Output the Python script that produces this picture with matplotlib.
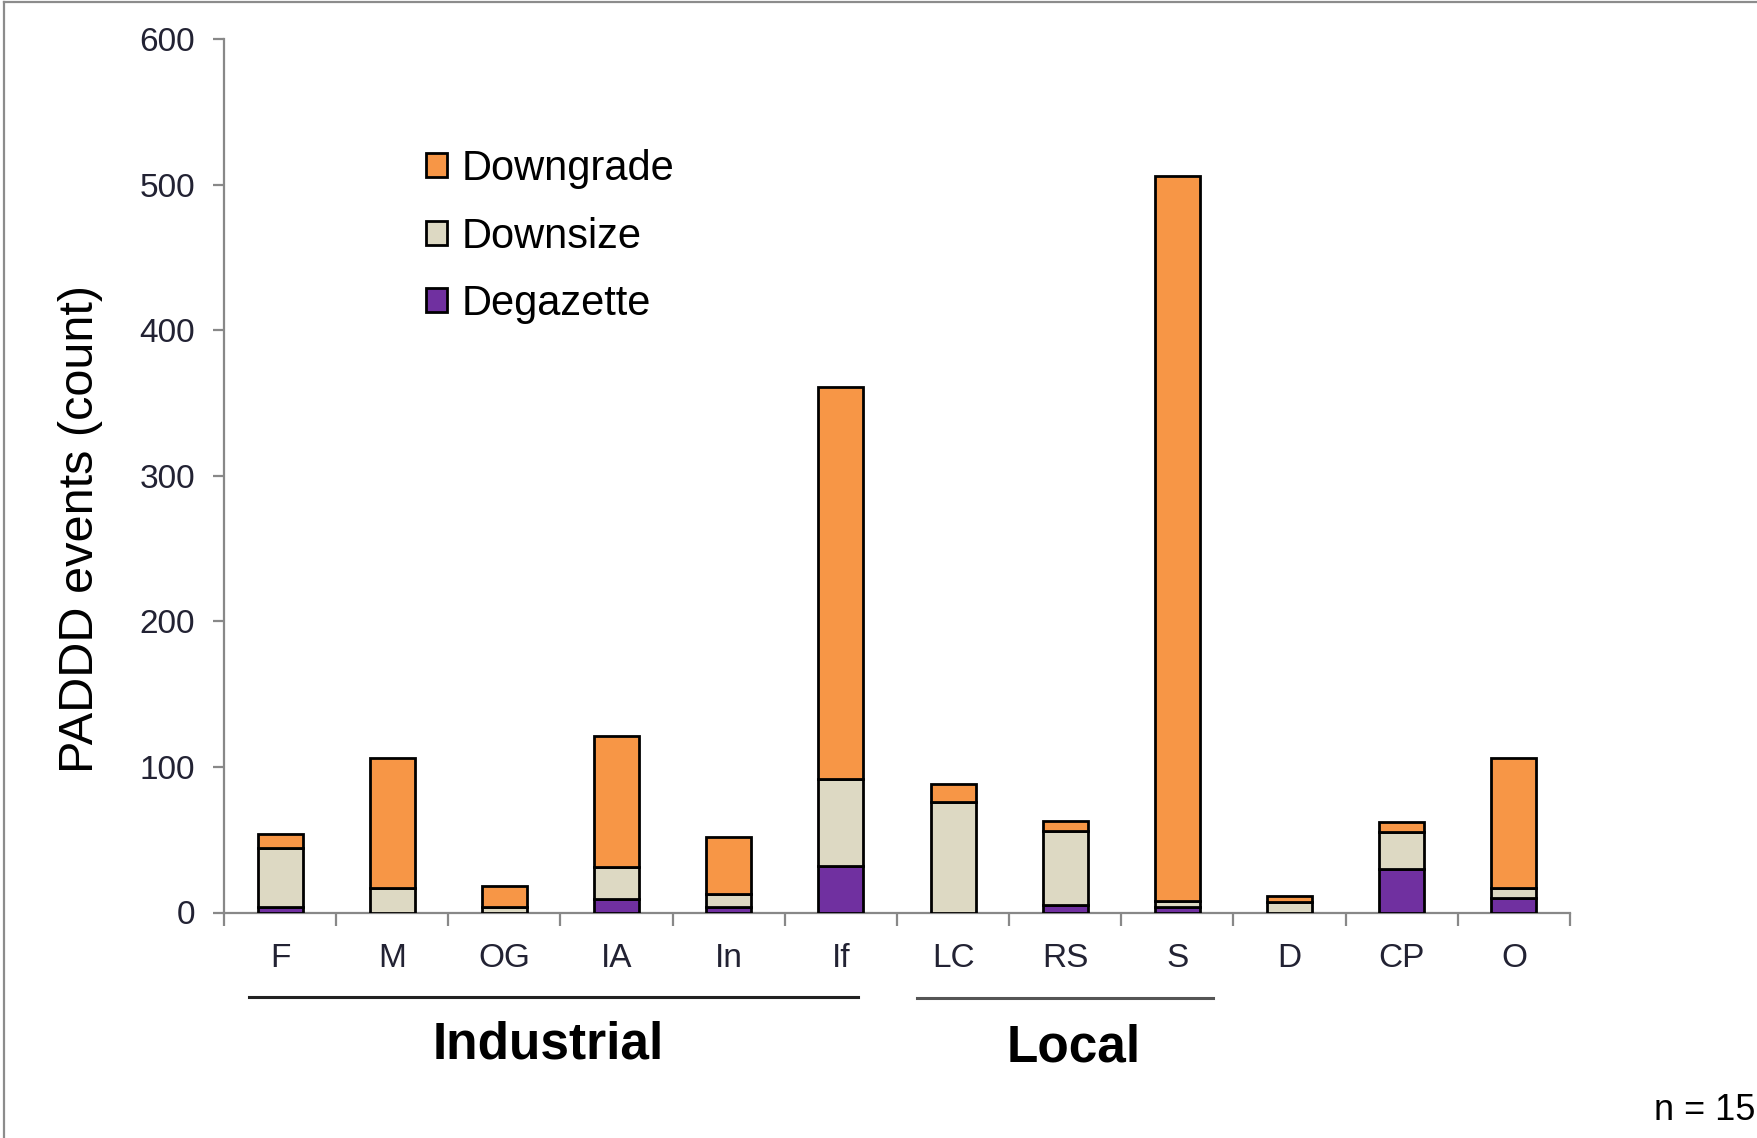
import matplotlib
matplotlib.use("Agg")
import matplotlib.pyplot as plt
from matplotlib.lines import Line2D
import numpy as np

plt.rcParams['font.family'] = ['Liberation Sans', 'DejaVu Sans']

categories = ["F", "M", "OG", "IA", "In", "If", "LC", "RS", "S", "D", "CP", "O"]
degazette = [4, 0, 0, 9, 4, 32, 0, 5, 4, 0, 30, 10]
downsize = [40, 17, 4, 22, 9, 60, 76, 51, 4, 7, 25, 7]
downgrade = [10, 89, 14, 90, 39, 269, 12, 7, 498, 4, 7, 89]

series_names = ["Degazette", "Downsize", "Downgrade"]
series_colors = ["#7030A0", "#DDD9C3", "#F79646"]
groups = ["Industrial", "Local"]

W, H = 1758, 1138
fig = plt.figure(figsize=(W / 100, H / 100), dpi=100)
ax = fig.add_axes([224 / W, 1 - 912.5 / H, 1346 / W, (912.5 - 39) / H])

x = np.arange(len(categories))
bottom = np.zeros(len(categories))
bars = []
for name, vals, col in zip(series_names, [degazette, downsize, downgrade], series_colors):
    b = ax.bar(x, vals, 0.4, bottom=bottom, color=col, edgecolor="black",
               linewidth=2.0, label=name, zorder=3)
    bars.append(b)
    bottom += np.array(vals)

ax.set_xlim(-0.5, len(categories) - 0.5)
ax.set_ylim(0, 600)
ax.set_yticks(range(0, 601, 100))
ax.set_xticks(x)
ax.set_xticklabels(categories)
ax.set_xticks(np.arange(-0.5, len(categories)), minor=True)

for s in ["top", "right"]:
    ax.spines[s].set_visible(False)
for s in ["left", "bottom"]:
    ax.spines[s].set_color("#888888")
    ax.spines[s].set_linewidth(1.6)

ax.tick_params(axis="y", length=8, width=1.6, color="#888888", labelsize=24,
               labelcolor="#222233", pad=13)
ax.tick_params(axis="x", which="major", length=0, labelsize=24,
               labelcolor="#222233", pad=22)
ax.tick_params(axis="x", which="minor", length=9, width=1.6, color="#888888")

ax.set_ylabel("PADDD events (count)", fontsize=35)
ax.yaxis.set_label_coords(-0.090, 0.439)

leg = ax.legend(bars[::-1], series_names[::-1], loc="upper left",
                bbox_to_anchor=(0.150, 0.874), frameon=False, fontsize=30,
                handlelength=0.5, handleheight=0.5, handletextpad=0.35,
                labelspacing=0.66, borderpad=0, borderaxespad=0)

# group labels under the axis
fig.add_artist(Line2D([249 / W, 858 / W], [1 - 997 / H] * 2, color="#222222", lw=2.2))
fig.add_artist(Line2D([917 / W, 1213 / W], [1 - 998 / H] * 2, color="#555555", lw=2.2))
fig.text(548 / W, 1 - 1045 / H, groups[0], fontsize=37, fontweight="bold",
         ha="center", va="center")
fig.text(1074 / W, 1 - 1048 / H, groups[1], fontsize=37, fontweight="bold",
         ha="center", va="center")

fig.text(1654 / W, 1 - 1110 / H, "n = 15", fontsize=26, ha="left", va="center")

# frame around the figure
fig.add_artist(Line2D([4 / W, 4 / W], [0, 1 - 2 / H], color="#8c8c8c", lw=1.6))
fig.add_artist(Line2D([4 / W, 1], [1 - 2 / H] * 2, color="#8c8c8c", lw=1.6))

fig.savefig("out.png", dpi=100)
